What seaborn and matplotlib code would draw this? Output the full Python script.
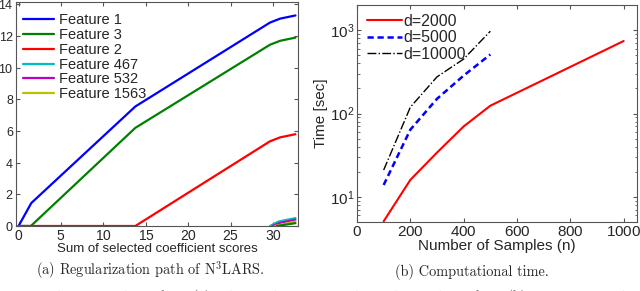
import matplotlib
matplotlib.use("Agg")
import numpy as np
import pandas as pd
import matplotlib.pyplot as plt
import seaborn as sns

# (a) regularization path of N3LARS
f1_x = [0, 1.5, 13.75, 29.6, 30.8, 32.6]
f1_y = [0, 1.45, 7.55, 12.85, 13.1, 13.3]
f3_x = [0, 1.45, 13.75, 29.6, 30.8, 32.6]
f3_y = [0, 0, 6.2, 11.45, 11.7, 11.9]
f2_x = [0, 13.75, 29.6, 30.8, 32.6]
f2_y = [0, 0, 5.35, 5.6, 5.8]
f467_x = [29.6, 30.6, 32.6]
f467_y = [0, 0.28, 0.5]
f532_x = [29.9, 30.8, 32.6]
f532_y = [0, 0.2, 0.4]
f1563_x = [30.2, 32.6]
f1563_y = [0, 0.28]
other_x = [30.4, 32.6]
other_y = [0, 0.18]

# (b) computational time
n_2000 = [100, 200, 300, 400, 500, 1000]
t_2000 = [5.1, 16, 34, 70, 124, 740]
n_5000 = [100, 200, 300, 400, 500]
t_5000 = [13.9, 64, 150, 285, 510]
n_10000 = [100, 200, 300, 400, 500]
t_10000 = [21, 119, 275, 450, 970]

sns.set_style("ticks")
plt.rcParams['font.family'] = ['Liberation Sans', 'DejaVu Sans']
plt.rcParams['mathtext.fontset'] = 'custom'
plt.rcParams['mathtext.rm'] = 'Liberation Sans'
plt.rcParams['axes.formatter.use_mathtext'] = True

fig = plt.figure(figsize=(6.4, 2.91), dpi=100)
ax1 = fig.add_axes([16/640, 1 - 226/291, 282/640, 224/291])
ax2 = fig.add_axes([357/640, 1 - 222/291, 280/640, 217/291])


def draw(ax, x, y, label, **kw):
    df = pd.DataFrame({'x': x, 'y': y})
    sns.lineplot(data=df, x='x', y='y', ax=ax, sort=False, estimator=None,
                 label=label, **kw)


lw = 1.6
draw(ax1, f1_x, f1_y, 'Feature 1', color='#0000ff', lw=lw)
draw(ax1, f3_x, f3_y, 'Feature 3', color='#008000', lw=lw)
draw(ax1, f467_x, f467_y, 'Feature 467', color='#00bfbf', lw=lw)
draw(ax1, f532_x, f532_y, 'Feature 532', color='#bf00bf', lw=lw)
draw(ax1, f1563_x, f1563_y, 'Feature 1563', color='#bfbf00', lw=lw)
draw(ax1, other_x, other_y, None, color='#008000', lw=lw)
draw(ax1, f2_x, f2_y, 'Feature 2', color='#ff0000', lw=lw)

h, l = ax1.get_legend_handles_labels()
order = ['Feature 1', 'Feature 3', 'Feature 2', 'Feature 467', 'Feature 532', 'Feature 1563']
hm = dict(zip(l, h))
ax1.legend([hm[k] for k in order], order, loc='upper left', frameon=False,
           fontsize=10.5, handlelength=2.1, handletextpad=0.35, labelspacing=0.05,
           borderaxespad=0, borderpad=0.4, bbox_to_anchor=(0.005, 0.975))

ax1.set_xlim(-0.3, 32.9)
ax1.set_ylim(0, 14.15)
ax1.set_xticks(range(0, 31, 5))
ax1.set_yticks(range(0, 15, 2))
ax1.set_xlabel('Sum of selected coefficient scores', fontsize=9.5, labelpad=0)
ax1.set_ylabel('')

draw(ax2, n_2000, t_2000, 'd=2000', color='#ff0000', lw=1.5)
draw(ax2, n_5000, t_5000, 'd=5000', color='#0000ff', lw=1.8, linestyle=(0, (2.5, 1.5)))
draw(ax2, n_10000, t_10000, 'd=10000', color='black', lw=1.0, linestyle='-.')
ax2.set_yscale('log')
ax2.set_xlim(0, 1050)
ax2.set_ylim(5, 2000)
ax2.set_xticks(range(0, 1001, 200))
ax2.set_xlabel('Number of Samples (n)', fontsize=11, labelpad=0)
ax2.set_ylabel('Time [sec]', fontsize=11, labelpad=1)
ax2.legend(loc='upper left', frameon=False, fontsize=11.5, handlelength=2.2,
           handletextpad=0.1, labelspacing=0.1, borderaxespad=0, borderpad=0.4,
           bbox_to_anchor=(0.012, 0.99))

for ax, fs in ((ax1, 10), (ax2, 11)):
    ax.tick_params(which='both', direction='in', top=True, right=True,
                   labelsize=fs, pad=2, color='#555555')
    ax.tick_params(which='major', length=3)
    ax.tick_params(which='minor', length=1.8)
    for s in ax.spines.values():
        s.set_color('#555555')
        s.set_linewidth(0.8)
ax1.tick_params(axis='y', labelsize=9, pad=1.5)

cap = dict(family='cmr10', fontsize=10.3, ha='center', va='center')
plt.rcParams['mathtext.fontset'] = 'cm'
fig.text(150/640, 1 - 270/291, r'(a) Regularization path of N$^3$LARS.', **cap)
fig.text(472/640, 1 - 272/291, '(b) Computational time.', **cap)
fig.text(-32/640, 1 - 299.5/291,
         'Figure 1: Results for synthetic data. (a): The regularization path for the synthetic data. (b): Computational time.',
         family='cmr10', fontsize=10, ha='left', va='baseline')

fig.savefig('out.png', dpi=100)
